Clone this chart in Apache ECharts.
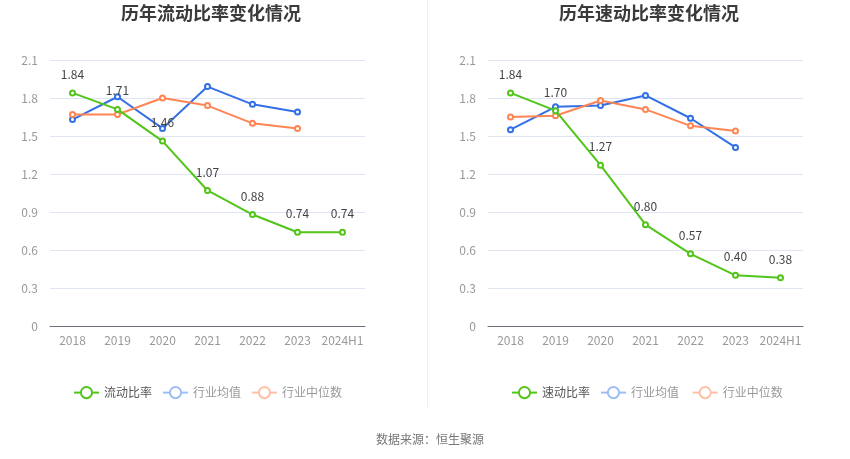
<!DOCTYPE html>
<html><head><meta charset="utf-8">
<script src="https://cdn.jsdelivr.net/npm/echarts@6/dist/echarts.min.js"></script>
<style>html,body{margin:0;padding:0;background:#fff}#c{width:850px;height:459px}</style>
</head><body><div id="c"></div>
<script>
const categories = ['2018','2019','2020','2021','2022','2023','2024H1'];
const yTicks = [0, 0.3, 0.6, 0.9, 1.2, 1.5, 1.8, 2.1];
const currentRatio = [1.84, 1.71, 1.46, 1.07, 0.88, 0.74, 0.74];
const currentIndustryMean = [1.63, 1.81, 1.56, 1.89, 1.75, 1.69];
const currentIndustryMedian = [1.67, 1.67, 1.80, 1.74, 1.60, 1.56];
const quickRatio = [1.84, 1.70, 1.27, 0.80, 0.57, 0.40, 0.38];
const quickIndustryMean = [1.55, 1.73, 1.74, 1.82, 1.64, 1.41];
const quickIndustryMedian = [1.65, 1.66, 1.78, 1.71, 1.58, 1.54];

const GREEN = '#52c41a', BLUE = '#3370e6', ORANGE = '#ff8554';
const FONT = '"Noto Sans CJK SC", "Noto Sans", sans-serif';
const chart = echarts.init(document.getElementById('c'));

function xAxis(gi){
  return {type:'category', gridIndex:gi, data:categories, boundaryGap:true,
    axisLine:{lineStyle:{color:'#6e7079'}},
    axisTick:{alignWithLabel:true, lineStyle:{color:'#6e7079'}},
    axisLabel:{color:'#999', fontSize:12, margin:8, fontFamily:FONT, interval:0}};
}
function yAxis(gi){
  return {type:'value', gridIndex:gi, min:0, max:yTicks[yTicks.length-1], interval:0.3,
    axisLine:{show:false}, axisTick:{show:false},
    axisLabel:{color:'#999', fontSize:12, fontFamily:FONT, margin:12},
    splitLine:{lineStyle:{color:'#e0e6f1'}}};
}
function line(name, data, color, gi, label){
  return {name, type:'line', data, xAxisIndex:gi, yAxisIndex:gi,
    symbol:'emptyCircle', symbolSize:5, showSymbol:true,
    lineStyle:{width:2, color}, itemStyle:{color, borderWidth:2},
    label: label ? {show:true, position:'top', color:'#444', fontSize:12, fontFamily:FONT,
      formatter:p=>p.value.toFixed(2), distance:9} : {show:false},
    z: label ? 3 : 2};
}
function legend(left, mainName, gi){
  return {left, top:381, itemWidth:25, itemHeight:14, itemGap:10,
    textStyle:{fontSize:12, fontFamily:FONT, color:'#999'},
    data:[
      {name:mainName, itemStyle:{color:GREEN}, lineStyle:{color:GREEN, width:2}, textStyle:{color:'#555'}},
      {name:'行业均值'+(gi?' ':''), itemStyle:{color:'#9dbdf5'}, lineStyle:{color:'#9dbdf5', width:2}},
      {name:'行业中位数'+(gi?' ':''), itemStyle:{color:'#ffc0a6'}, lineStyle:{color:'#ffc0a6', width:2}}
    ]};
}
chart.setOption({
  animation:false,
  textStyle:{fontFamily:FONT},
  title:[
    {text:'历年流动比率变化情况', left:206, top:-1, textAlign:'center',
      textStyle:{fontSize:18, fontWeight:'bold', color:'#3a3a3a', fontFamily:FONT}},
    {text:'历年速动比率变化情况', left:644, top:-1, textAlign:'center',
      textStyle:{fontSize:18, fontWeight:'bold', color:'#3a3a3a', fontFamily:FONT}},
    {text:'数据来源：恒生聚源', left:425, top:428, textAlign:'center',
      textStyle:{fontSize:12, fontWeight:'normal', color:'#777', fontFamily:FONT}}
  ],
  grid:[
    {left:50, right:485, top:60, bottom:133},
    {left:488, right:47, top:60, bottom:133}
  ],
  xAxis:[xAxis(0), xAxis(1)],
  yAxis:[yAxis(0), yAxis(1)],
  legend:[legend(68,'流动比率',0), legend(506,'速动比率',1)],
  graphic:[{type:'line', shape:{x1:427.5, y1:0, x2:427.5, y2:407}, style:{stroke:'#eee', lineWidth:1}}],
  series:[
    line('行业均值', currentIndustryMean, BLUE, 0, false),
    line('行业中位数', currentIndustryMedian, ORANGE, 0, false),
    line('流动比率', currentRatio, GREEN, 0, true),
    line('行业均值 ', quickIndustryMean, BLUE, 1, false),
    line('行业中位数 ', quickIndustryMedian, ORANGE, 1, false),
    line('速动比率', quickRatio, GREEN, 1, true)
  ]
});
</script></body></html>
